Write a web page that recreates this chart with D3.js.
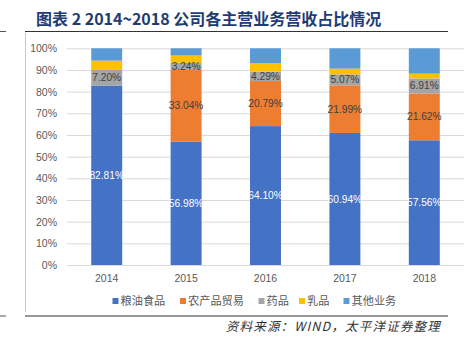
<!DOCTYPE html>
<html><head><meta charset="utf-8">
<script src="https://cdn.jsdelivr.net/npm/d3@7/dist/d3.min.js"></script>
<style>body{margin:0;background:#fff}svg{display:block}</style>
</head><body>
<svg id="c" width="465" height="345"></svg>
<script>
const years = ["2014","2015","2016","2017","2018"];
const seriesNames = ["粮油食品","农产品贸易","药品","乳品","其他业务"];
const grainOil = [82.81, 56.98, 64.10, 60.94, 57.56];
const agriTrade = [0, 33.04, 20.79, 21.99, 21.62];
const pharma = [7.20, 3.24, 4.29, 5.07, 6.91];
const dairy = [4.3, 3.4, 4.0, 2.6, 2.2];
const other = [5.69, 3.34, 6.82, 9.40, 11.71];
const labeled = [true, true, true, false, false];
const yTicks = [0,0.1,0.2,0.3,0.4,0.5,0.6,0.7,0.8,0.9,1.0];
const colors = ["#4472C4","#ED7D31","#A5A5A5","#FFC000","#5B9BD5"];
const titleText = "图表 2 2014~2018 公司各主营业务营收占比情况";
const sourceText = "资料来源：WIND，太平洋证券整理";

const seriesArrays = [grainOil, agriTrade, pharma, dairy, other];
const rows = years.map((y,i)=>{
  const r = {year:y};
  const tot = d3.sum(seriesArrays, a=>a[i]);
  seriesNames.forEach((n,k)=>{ r[n] = seriesArrays[k][i]/tot; r["_raw"+k] = seriesArrays[k][i]; });
  return r;
});

const svg = d3.select("#c");
const font = "'Liberation Sans', 'Noto Sans CJK SC', sans-serif";
const cjk = "'Noto Sans CJK SC', sans-serif";

// frame lines
svg.append("line").attr("x1",0).attr("x2",6).attr("y1",31.5).attr("y2",31.5).attr("stroke","#555").attr("stroke-width",1);
svg.append("line").attr("x1",25).attr("x2",448).attr("y1",31.5).attr("y2",31.5).attr("stroke","#333").attr("stroke-width",1.2);
svg.append("line").attr("x1",25.5).attr("x2",25.5).attr("y1",33).attr("y2",312).attr("stroke","#c8c8c8").attr("stroke-width",1);
svg.append("line").attr("x1",0).attr("x2",6).attr("y1",316).attr("y2",316).attr("stroke","#555").attr("stroke-width",1);
svg.append("line").attr("x1",25).attr("x2",448).attr("y1",316).attr("y2",316).attr("stroke","#333").attr("stroke-width",1.2);

// title
svg.append("text").attr("x",36).attr("y",25).attr("font-family",cjk).attr("font-weight","bold")
  .attr("font-size",16).attr("fill","#1f3c73").text(titleText);

const x = d3.scaleBand().domain(years).range([67,464]).paddingInner(0.61).paddingOuter(0.305);
const y = d3.scaleLinear().domain([0,1]).range([265,48.3]);

// grid
const yAxis = d3.axisLeft(y).tickValues(yTicks).tickFormat(d3.format(".0%")).tickSize(-(464-67)).tickPadding(10);
const ga = svg.append("g").attr("transform","translate(67,0)").call(yAxis);
ga.select(".domain").remove();
ga.selectAll(".tick line").attr("stroke","#d9d9d9").attr("stroke-width",1);
ga.selectAll(".tick text").attr("font-family",font).attr("font-size",10.5).attr("fill","#595959");

// x axis labels
const xa = svg.append("g").attr("transform","translate(0,265)").call(d3.axisBottom(x).tickSize(0).tickPadding(10));
xa.select(".domain").remove();
xa.selectAll(".tick text").attr("font-family",font).attr("font-size",10.5).attr("fill","#595959");

const stack = d3.stack().keys(seriesNames);
const stacked = stack(rows);

const layers = svg.append("g").selectAll("g").data(stacked).join("g").attr("fill",(d,i)=>colors[i]);
layers.selectAll("rect").data(d=>d).join("rect")
  .attr("x",d=>x(d.data.year)).attr("width",x.bandwidth())
  .attr("y",d=>y(d[1])).attr("height",d=>Math.max(0,y(d[0])-y(d[1])));

// labels
stacked.forEach((layer,k)=>{
  if(!labeled[k]) return;
  svg.append("g").selectAll("text").data(layer.filter((d,i)=>d.data["_raw"+k]>0)).join("text")
    .attr("x",d=>x(d.data.year)+x.bandwidth()/2)
    .attr("y",d=>(y(d[0])+y(d[1]))/2)
    .attr("dy","0.35em").attr("text-anchor","middle")
    .attr("font-family",font).attr("font-size",10.2)
    .attr("fill",k===0?"#ffffff":"#404040")
    .text(d=>d.data["_raw"+k].toFixed(2)+"%");
});

// legend
const legendX = [112.5,180,258.5,299,343.5];
const lg = svg.append("g");
seriesNames.forEach((n,i)=>{
  lg.append("rect").attr("x",legendX[i]).attr("y",298).attr("width",6).attr("height",6).attr("fill",colors[i]);
  lg.append("text").attr("x",legendX[i]+8).attr("y",301).attr("dy","0.35em")
    .attr("font-family",cjk).attr("font-size",11.2).attr("fill","#595959").text(n);
});

// source
svg.append("text").attr("x",441).attr("y",327).attr("dy","0.35em").attr("text-anchor","end")
  .attr("font-family",cjk).attr("font-style","italic").attr("font-size",12.5).attr("letter-spacing",1.2)
  .attr("fill","#333").text(sourceText);
</script>
</body></html>
